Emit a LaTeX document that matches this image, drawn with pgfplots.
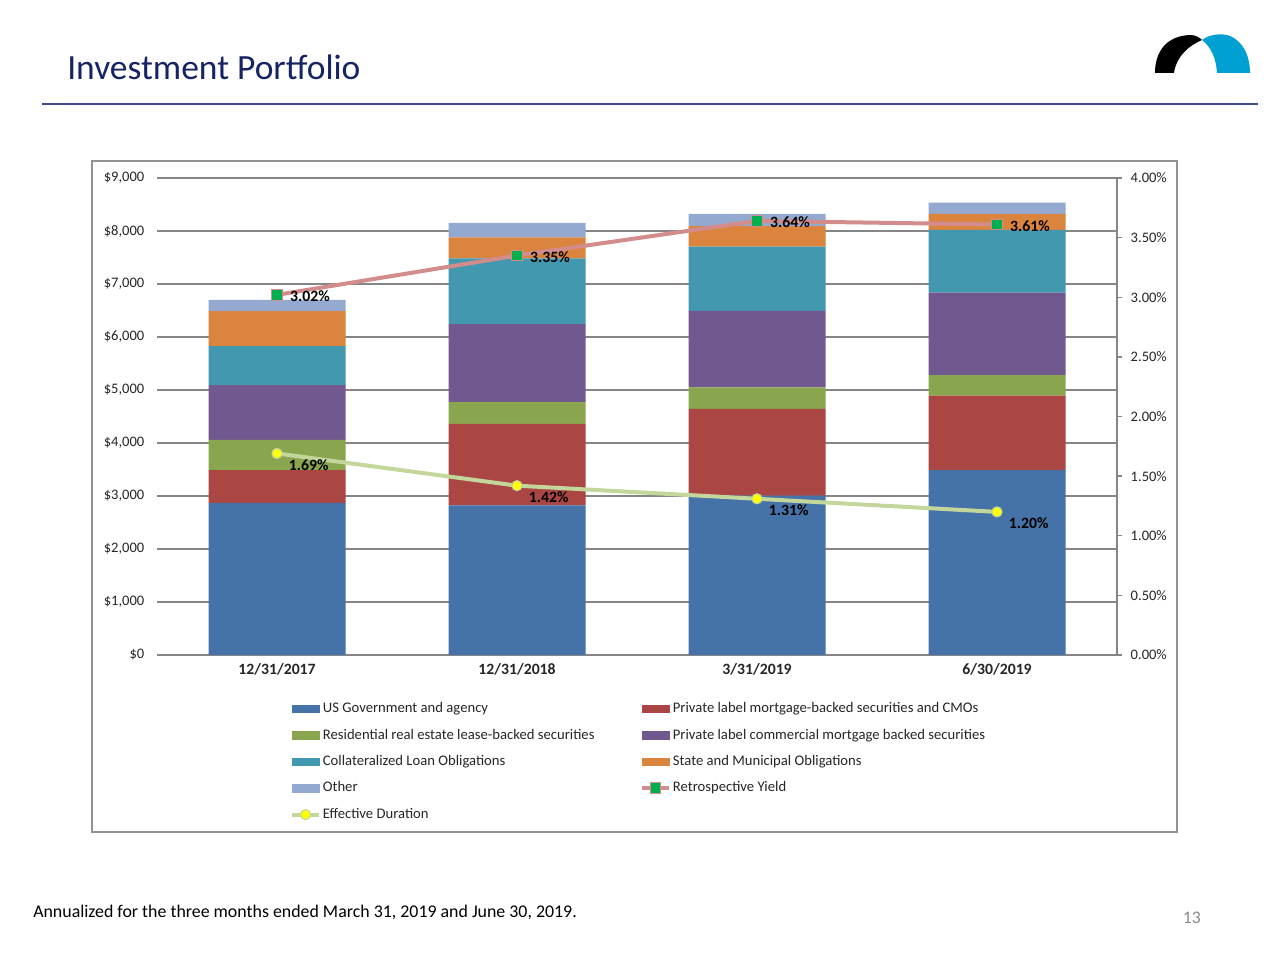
\documentclass[border=0pt]{standalone}
\usepackage{pgfplots}
\pgfplotsset{compat=1.18}
\usepackage{fontspec}
\setmainfont{Carlito}

\definecolor{usgov}{RGB}{69,114,167}
\definecolor{pmbs}{RGB}{170,70,67}
\definecolor{resid}{RGB}{137,165,78}
\definecolor{cmbs}{RGB}{113,88,143}
\definecolor{clo}{RGB}{65,152,175}
\definecolor{muni}{RGB}{219,132,61}
\definecolor{otherc}{RGB}{147,169,207}
\definecolor{yieldln}{RGB}{211,140,140}
\definecolor{yieldmk}{RGB}{0,176,80}
\definecolor{durln}{RGB}{195,214,155}
\definecolor{durmk}{RGB}{255,255,0}
\definecolor{gridgray}{RGB}{134,134,134}
\definecolor{navy}{RGB}{22,36,100}
\definecolor{rulec}{RGB}{60,74,140}
\definecolor{logoblue}{RGB}{0,160,210}

\pgfplotsset{
  barleg/.style={legend image code/.code={\fill[#1] (0pt,-2.8pt) rectangle (20pt,2.8pt);}},
  lineleg/.style={legend image code/.code={\draw[mark repeat=2,mark phase=2,##1] plot coordinates {(0pt,0pt) (10pt,0pt) (20pt,0pt)};}},
  panel/.style={
    scale only axis, width=720pt, height=357.75pt,
    at={(117.75pt,228.75pt)}, anchor=south west,
    xmin=-0.5, xmax=3.5,
    ticklabel style={font=\fontsize{10.9}{12}\selectfont, text=black!85},
    /pgf/number format/assume math mode=true,
  },
}

\begin{document}
\begin{tikzpicture}[x=0.75pt,y=0.75pt]
\fill[white] (0,0) rectangle (1280,960);

% header
\node[anchor=base west, inner sep=0pt, text=navy, font=\fontsize{26.6}{30}\selectfont] at (67,880) {Investment Portfolio};
\draw[rulec, line width=1.5pt] (42,856) -- (1258,856);
\fill[black] (1155,887) .. controls (1155,908) and (1166,924) .. (1190,925)
  .. controls (1195,925) and (1199,923) .. (1202,920)
  .. controls (1188,914) and (1176,903) .. (1174,887) -- cycle;
\fill[logoblue] (1202,920) .. controls (1210,926) and (1222,927) .. (1230,924)
  .. controls (1244,918) and (1250,903) .. (1250,887) -- (1217,887)
  .. controls (1216,902) and (1211,913) .. (1202,920) -- cycle;

% chart frame
\draw[gridgray!90, line width=1.1pt] (92,128) rectangle (1177,799);

\begin{axis}[panel,
  ybar stacked, bar width=102.75pt,
  ymin=0, ymax=9000, ytick distance=1000,
  axis lines*=left,
  y axis line style={draw=none},
  x axis line style={gridgray, line width=1pt},
  ymajorgrids, grid style={gridgray, line width=1pt},
  major tick length=0pt,
  yticklabel={\$\pgfmathprintnumber[fixed,precision=0,1000 sep={,}]{\tick}},
  yticklabel style={xshift=-6pt},
  xtick={0,1,2,3},
  xticklabels={12/31/2017,12/31/2018,3/31/2019,6/30/2019},
  xticklabel style={font=\bfseries\fontsize{11.8}{13}\selectfont, yshift=-3pt},
]
\addplot[fill=usgov, draw=none] coordinates {(0,2870) (1,2825) (2,3006) (3,3490)};
\addplot[fill=pmbs, draw=none] coordinates {(0,620) (1,1535) (2,1636) (3,1402)};
\addplot[fill=resid, draw=none] coordinates {(0,570) (1,410) (2,409) (3,391)};
\addplot[fill=cmbs, draw=none] coordinates {(0,1030) (1,1475) (2,1440) (3,1553)};
\addplot[fill=clo, draw=none] coordinates {(0,740) (1,1240) (2,1213) (3,1183)};
\addplot[fill=muni, draw=none] coordinates {(0,660) (1,395) (2,390) (3,302)};
\addplot[fill=otherc, draw=none] coordinates {(0,210) (1,275) (2,227) (3,213)};
\end{axis}

\begin{axis}[panel,
  ymin=0, ymax=4, ytick distance=0.5,
  axis x line=none, axis y line*=right,
  y axis line style={gridgray, line width=1pt},
  ytick style={gridgray, line width=1pt},
  major tick length=3.75pt, tick align=outside,
  yticklabel={\pgfmathprintnumber[fixed,fixed zerofill,precision=2]{\tick}\%},
  yticklabel style={xshift=3pt},
  legend columns=2,
  legend cell align=left,
  legend style={draw=none, fill=none, at={(0.1385,-0.098)}, anchor=north west,
    font=\fontsize{11}{13}\selectfont, text=black!85, inner sep=0pt,
    row sep=9.3pt, column sep=0pt,
    nodes={inner xsep=1.5pt, inner ysep=0pt, text height=8pt, text depth=2.5pt}},
]
\addlegendimage{barleg=usgov}
\addlegendimage{barleg=pmbs}
\addlegendimage{barleg=resid}
\addlegendimage{barleg=cmbs}
\addlegendimage{barleg=clo}
\addlegendimage{barleg=muni}
\addlegendimage{barleg=otherc}
\addplot[yieldln, line width=3pt, mark=square*, mark size=4pt,
  mark options={fill=yieldmk, draw=yieldln, line width=0.8pt}, lineleg,
  nodes near coords, point meta=explicit symbolic,
  nodes near coords style={anchor=west, xshift=9.5pt, yshift=-1pt, text=black,
    font=\bfseries\fontsize{11.8}{13}\selectfont, inner sep=0pt}]
  coordinates {(0,3.02) [3.02\%] (1,3.35) [3.35\%] (2,3.64) [3.64\%] (3,3.61) [3.61\%]};
\addplot[durln, line width=3pt, mark=*, mark size=3.8pt,
  mark options={fill=durmk, draw=durln, line width=0.8pt}, lineleg,
  nodes near coords, point meta=explicit symbolic,
  nodes near coords style={anchor=west, xshift=8.5pt, yshift=-8.5pt, text=black,
    font=\bfseries\fontsize{11.8}{13}\selectfont, inner sep=0pt}]
  coordinates {(0,1.69) [1.69\%] (1,1.42) [1.42\%] (2,1.31) [1.31\%] (3,1.20) [1.20\%]};
\legend{\makebox[236.5pt][l]{US Government and agency},
  Private label mortgage-backed securities and CMOs,
  \makebox[236.5pt][l]{Residential real estate lease-backed securities},
  Private label commercial mortgage backed securities,
  \makebox[236.5pt][l]{Collateralized Loan Obligations},
  State and Municipal Obligations,
  \makebox[236.5pt][l]{Other},
  Retrospective Yield,
  \makebox[236.5pt][l]{Effective Duration}}
\end{axis}

% footer
\node[anchor=base west, inner sep=0pt, font=\fontsize{13.4}{15}\selectfont] at (33,43) {Annualized for the three months ended March 31, 2019 and June 30, 2019.};
\node[anchor=base east, inner sep=0pt, text=black!45, font=\fontsize{13.3}{15}\selectfont] at (1201,37) {13};
\end{tikzpicture}
\end{document}
